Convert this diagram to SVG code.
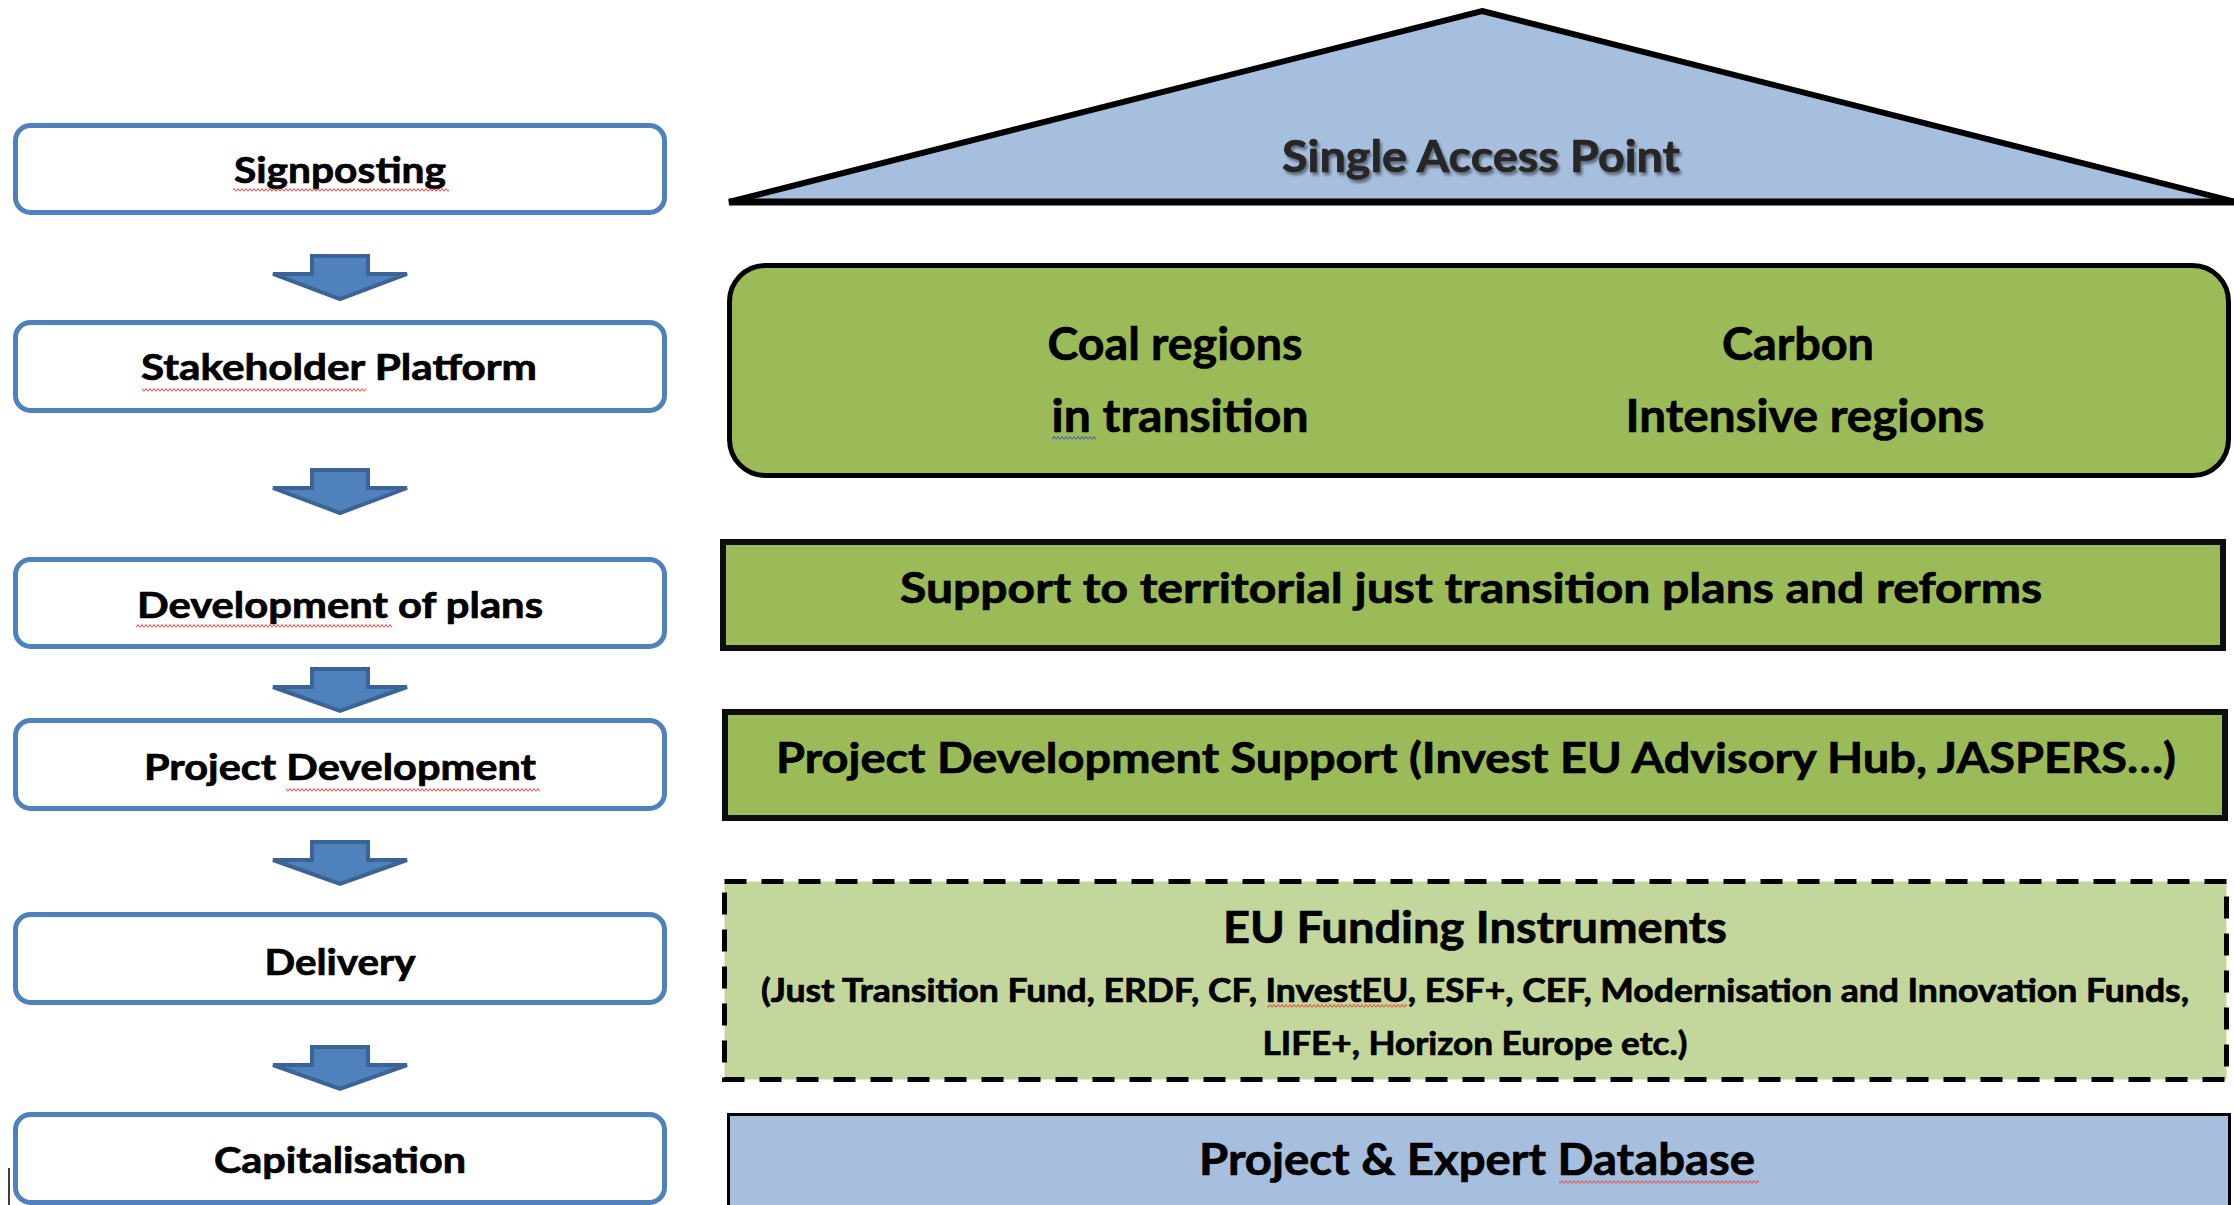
<svg xmlns="http://www.w3.org/2000/svg" width="2234" height="1205" viewBox="0 0 2234 1205">
<style>
  .box { fill: #FFFFFF; stroke: #4F81BD; stroke-width: 5; }
  .lbl { font-family: Lato, "Open Sans", "Liberation Sans", sans-serif; font-weight: bold; fill: #000000; text-anchor: middle; stroke: #000000; stroke-width: 0.7; }
  .arrow { fill: #4F81BD; stroke: #3B6396; stroke-width: 4; stroke-linejoin: miter; }
  .green { fill: #9BBB59; stroke: #0D0D0D; stroke-width: 6; }
  .sqr { fill: url(#sqRed); stroke: none; }
  .sqb { fill: url(#sqBlue); stroke: none; }
</style>
<defs>
  <filter id="shadow" x="-5%" y="-20%" width="110%" height="150%">
    <feGaussianBlur in="SourceAlpha" stdDeviation="1.5"/>
    <feOffset dx="2" dy="3" result="b"/>
    <feComponentTransfer><feFuncA type="linear" slope="0.45"/></feComponentTransfer>
    <feMerge><feMergeNode/><feMergeNode in="SourceGraphic"/></feMerge>
  </filter>
  <pattern id="sqRed" width="4" height="4" patternUnits="userSpaceOnUse">
    <path d="M0 3.5 L2 0.5 L4 3.5" fill="none" stroke="#E8453C" stroke-width="1"/>
  </pattern>
  <pattern id="sqBlue" width="4" height="4" patternUnits="userSpaceOnUse">
    <path d="M0 3.5 L2 0.5 L4 3.5" fill="none" stroke="#3F51C8" stroke-width="1"/>
  </pattern>
</defs>

<!-- Left column steps -->
<g id="signposting">
  <rect class="box" x="15.5" y="125.5" width="649" height="87" rx="15"/>
  <text class="lbl" x="340" y="183" font-size="36" textLength="212" lengthAdjust="spacingAndGlyphs">Signposting</text>
  <rect class="sqr" x="233" y="188" width="216" height="4"/>
</g>
<g id="stakeholder-platform">
  <rect class="box" x="15.5" y="322.5" width="649" height="88" rx="15"/>
  <text class="lbl" x="339" y="380" font-size="36" textLength="396" lengthAdjust="spacingAndGlyphs">Stakeholder Platform</text>
  <rect class="sqr" x="142" y="388" width="224" height="4"/>
</g>
<g id="development-of-plans">
  <rect class="box" x="15.5" y="559.5" width="649" height="87" rx="15"/>
  <text class="lbl" x="340" y="618" font-size="36" textLength="406" lengthAdjust="spacingAndGlyphs">Development of plans</text>
  <rect class="sqr" x="136" y="624" width="256" height="4"/>
</g>
<g id="project-development">
  <rect class="box" x="15.5" y="720.5" width="649" height="88" rx="15"/>
  <text class="lbl" x="340" y="780" font-size="36" textLength="392" lengthAdjust="spacingAndGlyphs">Project Development</text>
  <rect class="sqr" x="286" y="788" width="254" height="4"/>
</g>
<g id="delivery">
  <rect class="box" x="15.5" y="914.5" width="649" height="88" rx="15"/>
  <text class="lbl" x="340" y="975" font-size="36" textLength="151" lengthAdjust="spacingAndGlyphs">Delivery</text>
</g>
<g id="capitalisation">
  <rect class="box" x="15.5" y="1114.5" width="649" height="88" rx="15"/>
  <text class="lbl" x="340" y="1173" font-size="36" textLength="252" lengthAdjust="spacingAndGlyphs">Capitalisation</text>
</g>

<!-- Connectors: block arrows -->
<g id="connectors">
  <path class="arrow" d="M312 256 H368 V274 H407 L340 299 L273 274 H312 Z"/>
  <path class="arrow" d="M312 470 H368 V488 H407 L340 513 L273 488 H312 Z"/>
  <path class="arrow" d="M312 669 H368 V687 H407 L340 711 L273 687 H312 Z"/>
  <path class="arrow" d="M312 842 H368 V860 H407 L340 884 L273 860 H312 Z"/>
  <path class="arrow" d="M312 1047 H368 V1065 H407 L340 1089 L273 1065 H312 Z"/>
</g>

<!-- Right column -->
<g id="single-access-point">
  <path d="M1482 11 L2236 202 L729 202 Z" fill="#A7BFDE" stroke="#000000" stroke-width="6" stroke-linejoin="miter"/>
  <line x1="729" y1="202" x2="2234" y2="202" stroke="#000000" stroke-width="7"/>
  <text class="lbl" x="1481" y="172" font-size="44" style="fill:#262626;stroke:#262626" filter="url(#shadow)" textLength="398" lengthAdjust="spacingAndGlyphs">Single Access Point</text>
</g>

<g id="regions">
  <rect x="729.5" y="265.5" width="1499" height="210" rx="36" ry="36" fill="#9BBB59" stroke="#000000" stroke-width="5"/>
  <text class="lbl" x="1175" y="360" font-size="46" textLength="255" lengthAdjust="spacingAndGlyphs">Coal regions</text>
  <text class="lbl" x="1180" y="432" font-size="46" textLength="257" lengthAdjust="spacingAndGlyphs">in transition</text>
  <rect class="sqb" x="1052" y="436" width="44" height="4"/>
  <text class="lbl" x="1798" y="360" font-size="46" textLength="152" lengthAdjust="spacingAndGlyphs">Carbon</text>
  <text class="lbl" x="1805" y="432" font-size="46" textLength="359" lengthAdjust="spacingAndGlyphs">Intensive regions</text>
</g>

<g id="territorial-support">
  <rect class="green" x="723" y="542" width="1500" height="106"/>
  <text class="lbl" x="1471" y="603" font-size="42" textLength="1142" lengthAdjust="spacingAndGlyphs">Support to territorial just transition plans and reforms</text>
</g>

<g id="project-development-support">
  <rect class="green" x="725" y="712" width="1500" height="106"/>
  <text class="lbl" x="1476" y="773" font-size="42" textLength="1400" lengthAdjust="spacingAndGlyphs">Project Development Support (Invest EU Advisory Hub, JASPERS…)</text>
</g>

<g id="eu-funding-instruments">
  <rect x="724.5" y="881.5" width="1502" height="198" fill="#C3D69B" stroke="#000000" stroke-width="5" stroke-dasharray="22 15"/>
  <text class="lbl" x="1475" y="943" font-size="44" textLength="504" lengthAdjust="spacingAndGlyphs">EU Funding Instruments</text>
  <text class="lbl" x="1475" y="1002" font-size="32" textLength="1428" lengthAdjust="spacingAndGlyphs">(Just Transition Fund, ERDF, CF, InvestEU, ESF+, CEF, Modernisation and Innovation Funds,</text>
  <rect class="sqr" x="1267" y="1004" width="140" height="4"/>
  <text class="lbl" x="1475" y="1055" font-size="32" textLength="425" lengthAdjust="spacingAndGlyphs">LIFE+, Horizon Europe etc.)</text>
</g>

<g id="project-expert-database">
  <rect x="728.5" y="1114.5" width="1501" height="120" fill="#A7BFDE" stroke="#000000" stroke-width="3"/>
  <text class="lbl" x="1477" y="1175" font-size="44" textLength="556" lengthAdjust="spacingAndGlyphs">Project &amp; Expert Database</text>
  <rect class="sqr" x="1559" y="1180" width="200" height="4"/>
</g>

<line x1="9" y1="1168" x2="9" y2="1205" stroke="#000000" stroke-width="1.5"/>
</svg>
